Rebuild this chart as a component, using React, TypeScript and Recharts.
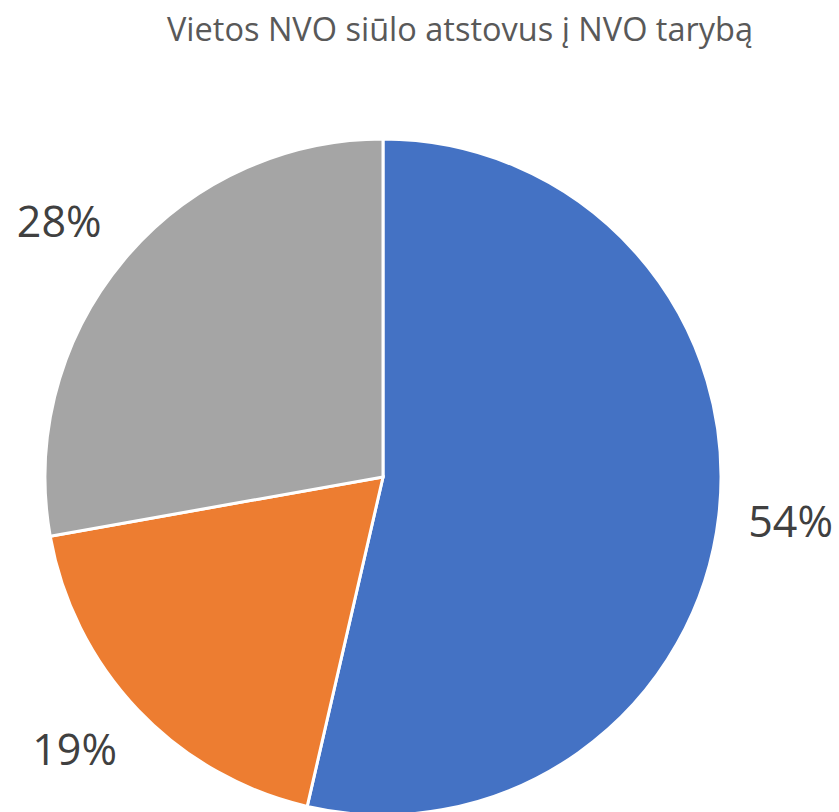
import React from "react";
import { PieChart, Pie, Cell } from "recharts";

const categories = ["Taip", "Iš dalies", "Ne"];
const values = [53.6, 18.6, 27.8];
const labels = ["54%", "19%", "28%"];
const colors = ["#4472C4", "#ED7D31", "#A5A5A5"];
const title = "Vietos NVO siūlo atstovus į NVO tarybą";

const data = categories.map((name, i) => ({ name, value: values[i], label: labels[i] }));

const RAD = Math.PI / 180;
const LABEL_W = 82;
const LABEL_H = 37;
const clamp = (v: number) => Math.max(-1, Math.min(1, v));

const renderLabel = (props: any) => {
  const { cx, cy, midAngle, outerRadius, index } = props;
  const c = Math.cos(-midAngle * RAD);
  const s = Math.sin(-midAngle * RAD);
  const r = outerRadius + 31;
  const x = cx + r * c + (LABEL_W / 2) * clamp(1.65 * c);
  const yc = cy + r * s + (LABEL_H / 2) * clamp(1.65 * s);
  return (
    <text
      x={x}
      y={yc + 15.3}
      fill="#404040"
      fontSize={43}
      fontFamily="'Open Sans', 'Noto Sans', sans-serif"
      textAnchor="middle"
    >
      {labels[index]}
    </text>
  );
};

export default function App() {
  return (
    <div style={{ position: "absolute", left: 0, top: 0, width: 839, height: 812, background: "#fff" }}>
      <PieChart width={839} height={812} margin={{ top: 0, right: 0, bottom: 0, left: 0 }}>
        <text
          x={460}
          y={41}
          textAnchor="middle"
          fill="#595959"
          fontSize={32.5}
          fontFamily="'Open Sans', 'Noto Sans', sans-serif"
        >
          {title}
        </text>
        <Pie
          data={data}
          dataKey="value"
          nameKey="name"
          cx={383}
          cy={477}
          outerRadius={338}
          startAngle={90}
          endAngle={-270}
          stroke="#ffffff"
          strokeWidth={3}
          label={renderLabel}
          labelLine={false}
          isAnimationActive={false}
        >
          {data.map((d, i) => (
            <Cell key={d.name} fill={colors[i]} />
          ))}
        </Pie>
      </PieChart>
    </div>
  );
}
